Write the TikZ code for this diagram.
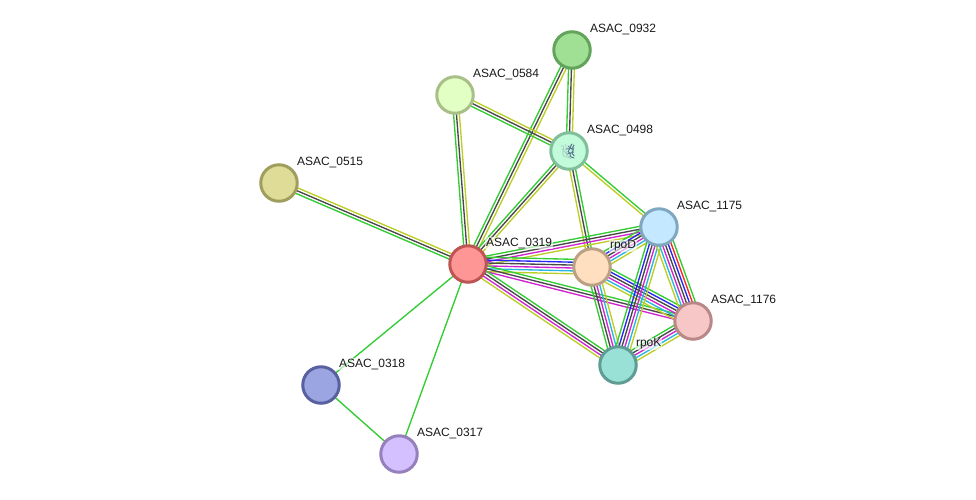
\documentclass[tikz,border=0pt]{standalone}
\usepackage{fontspec}
\setmainfont{Liberation Sans}
\usetikzlibrary{calc}
\pgfdeclarelayer{edges}
\pgfsetlayers{edges,main}

% Evidence channel colours
\definecolor{cGreen}{HTML}{33CC33}
\definecolor{cDark}{HTML}{484848}
\definecolor{cMag}{HTML}{D024D0}
\definecolor{cBlue}{HTML}{2626F0}
\definecolor{cCyan}{HTML}{26B8DC}
\definecolor{cYel}{HTML}{BCCE26}
\definecolor{cRed}{HTML}{F82626}
\definecolor{foldPale}{HTML}{9CC4C0}
\definecolor{foldDark}{HTML}{5A7690}

\tikzset{
  protein/.style={circle,minimum size=36.5pt,inner sep=0pt,line width=3pt},
  protname/.style={anchor=west,inner sep=0.6pt,text=black!90,
    font=\fontsize{12}{14}\selectfont},
  lane/.style={line width=1.35pt},
}

% One protein: name, position, fill, ring
\newcommand{\protein}[5]{%
  \definecolor{fill#1}{HTML}{#4}%
  \definecolor{ring#1}{HTML}{#5}%
  \node[protein,fill=fill#1,draw=ring#1] (#1) at (#2,#3) {};
}
% Printed name, up and to the right of its protein
\newcommand{\protlabel}[2]{%
  \node[protname,fill=white,fill opacity=.6,text opacity=1] (#1l)
    at ([xshift=17.2pt,yshift=21pt]#1.center) {#2};
}
% Bundle of parallel lanes; the first colour lies left of the a-to-b direction
\newcommand{\lanes}[3]{%
  \foreach \c [count=\k] in {#3} {\xdef\lanecount{\k}}
  \foreach \c [count=\k] in {#3} {
    \pgfmathsetmacro\off{((\lanecount+1)/2-\k)*2.9}
    \draw[lane,\c] ($(#1)!\off pt!90:(#2)$) -- ($(#2)!\off pt!-90:(#1)$);
  }%
}

\begin{document}
\begin{tikzpicture}[x=1pt,y=-1pt]
\useasboundingbox (0,0) rectangle (976,499);

\protein{p932}{572}{50}{9FE095}{63A35B}
\protein{p584}{455}{95}{E2FFC4}{A8C088}
\protein{p498}{569}{151}{C2FBD9}{80BF9A}
\protein{p515}{279}{183}{DFDC98}{A09E5C}
\protein{p319}{468}{264}{FF9696}{BE5555}
\protein{p1175}{659}{227}{C3E8FF}{7FA8C0}
\protein{rpoD}{592}{267}{FFDFBF}{BBA084}
\protein{p1176}{693}{321}{F7C6C6}{B88888}
\protein{rpoK}{618}{365}{99E0D6}{5E9C94}
\protein{p318}{321}{385}{9AA5E2}{5860A0}
\protein{p317}{399}{454}{D4BFFF}{9580BC}

\begin{pgfonlayer}{edges}
  \lanes{p584}{p319}{cYel,cDark,cGreen}
  \lanes{p932}{p319}{cYel,cDark,cGreen}
  \lanes{p932}{p498}{cYel,cDark,cGreen}
  \lanes{p584}{p498}{cYel,cDark,cGreen}
  \lanes{p498}{p319}{cYel,cDark,cGreen}
  \lanes{p498}{rpoD}{cGreen,cDark,cYel}
  \lanes{p498}{p1175}{cGreen,cYel}
  \lanes{p515}{p319}{cYel,cDark,cGreen}
  \lanes{p319}{p318}{cGreen}
  \lanes{p319}{p317}{cGreen}
  \lanes{p318}{p317}{cGreen}
  \lanes{p319}{p1175}{cGreen,cDark,cMag,cYel}
  \lanes{p319}{rpoD}{cGreen,cBlue,cDark,cMag,cCyan,cYel}
  \lanes{p319}{p1176}{cGreen,cDark,cMag}
  \lanes{p319}{rpoK}{cGreen,cDark,cMag,cYel}
  \lanes{rpoD}{p1175}{cGreen,cBlue,cDark,cMag,cCyan,cYel}
  \lanes{rpoD}{p1176}{cGreen,cBlue,cDark,cMag,cCyan,cYel}
  \lanes{rpoD}{rpoK}{cYel,cCyan,cMag,cDark,cGreen}
  \lanes{p1175}{rpoK}{cYel,cCyan,cMag,cDark,cBlue,cGreen}
  \lanes{p1175}{p1176}{cGreen,cRed,cBlue,cDark,cMag,cCyan,cYel}
  \lanes{p1176}{rpoK}{cYel,cCyan,cMag,cDark,cGreen}
\end{pgfonlayer}

% Small fold sketch inside the structure-bearing protein
\begin{scope}[shift={(p498.center)},line cap=round]
  \draw[foldPale,line width=.6pt] (-8,-5) .. controls (-3,-7) and (-7,0) .. (-6,4)
    .. controls (-4,8) and (-1,4) .. (2,8);
  \draw[foldPale,line width=.6pt] (-7,-2) .. controls (-2,1) and (-4,5) .. (1,6);
  \draw[foldPale,line width=.6pt] (-4,-7) .. controls (-1,-4) and (-5,-1) .. (-2,2);
  \draw[foldDark,line width=1pt] (3,-7) .. controls (0,-4) and (3,-3) .. (0,-1)
    .. controls (-3,1) and (3,2) .. (1,4) .. controls (0,6) and (3,6) .. (5,7);
  \draw[foldDark,line width=1pt] (5,-6) .. controls (2,-3) and (6,-1) .. (3,1)
    .. controls (2,3) and (6,4) .. (5,5);
  \draw[foldDark,line width=.8pt] (-3,-2) -- (5,-3) (-2,3) -- (5,1) (-1,-5) -- (4,-1);
\end{scope}

\protlabel{p932}{ASAC\_0932}
\protlabel{p584}{ASAC\_0584}
\protlabel{p498}{ASAC\_0498}
\protlabel{p515}{ASAC\_0515}
\protlabel{p319}{ASAC\_0319}
\protlabel{p1175}{ASAC\_1175}
\protlabel{rpoD}{rpoD}
\protlabel{p1176}{ASAC\_1176}
\protlabel{rpoK}{rpoK}
\protlabel{p318}{ASAC\_0318}
\protlabel{p317}{ASAC\_0317}
\end{tikzpicture}
\end{document}
